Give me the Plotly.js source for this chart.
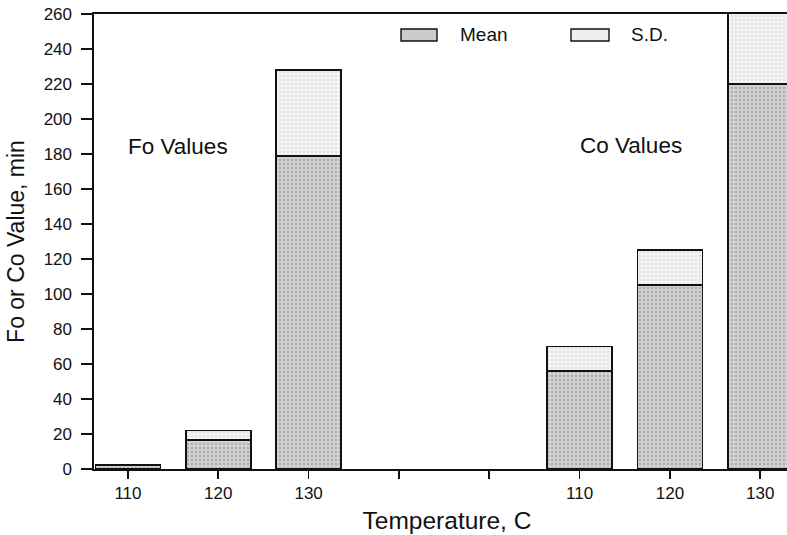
<!DOCTYPE html>
<html>
<head>
<meta charset="utf-8">
<script src="https://cdn.plot.ly/plotly-3.0.1.min.js"></script>
<style>
  html, body { margin: 0; padding: 0; background: #fff; overflow: hidden; }
  #chart { width: 800px; height: 535px; }
</style>
</head>
<body>
<div id="chart"></div>
<script>
// Temperature slots along the x axis: Fo group, two empty slots, Co group
const slots = ['Fo 110', 'Fo 120', 'Fo 130', 'gap a', 'gap b', 'Co 110', 'Co 120', 'Co 130'];
const slotLabels = ['110', '120', '130', '', '', '110', '120', '130'];

// Fo values (min)
const foSlots = ['Fo 110', 'Fo 120', 'Fo 130'];
const foMean = [2, 16.5, 179];
const foSD = [0.3, 5.5, 49];

// Co values (min)
const coSlots = ['Co 110', 'Co 120', 'Co 130'];
const coMean = [56, 105, 220];
const coSD = [14, 20, 70];

const FONT = 'Liberation Sans, Arial, Helvetica, sans-serif';

const meanStyle = {
  color: '#cfcfcf',
  line: { color: '#111', width: 1.6 },
  pattern: { shape: '.', bgcolor: '#d2d2d2', fgcolor: '#858585', size: 4, solidity: 0.32, fillmode: 'overlay' }
};
const sdStyle = {
  color: '#f0f0f0',
  line: { color: '#111', width: 1.6 },
  pattern: { shape: '.', bgcolor: '#f3f3f3', fgcolor: '#c2c2c2', size: 4, solidity: 0.22, fillmode: 'overlay' }
};

const traces = [
  { type: 'bar', name: 'Mean', x: foSlots.concat(coSlots), y: foMean.concat(coMean), marker: meanStyle, showlegend: false, hoverinfo: 'y' },
  { type: 'bar', name: 'S.D.', x: foSlots.concat(coSlots), y: foSD.concat(coSD), marker: sdStyle, showlegend: false, hoverinfo: 'y' }
];

// the figure runs a little past the right edge of the page, so the last bar is cut off there
const L = 94, R = 0, T = 14, B = 66, W = 800, H = 535;
const pw = W - L - R, ph = H - T - B;
const px = v => (v - L) / pw;
const py = v => (H - B - v) / ph;

const layout = {
  width: W, height: H,
  margin: { l: L, r: R, t: T, b: B, pad: 0 },
  paper_bgcolor: '#fff', plot_bgcolor: '#fff',
  barmode: 'stack',
  bargap: 0.28,
  font: { family: FONT, color: '#111', size: 16 },
  xaxis: {
    type: 'category',
    categoryorder: 'array', categoryarray: slots,
    tickmode: 'array', tickvals: slots, ticktext: slotLabels,
    range: [-0.376, 7.44],
    showline: true, linecolor: '#111', linewidth: 1.6, mirror: true,
    ticks: 'outside', ticklen: 8, tickwidth: 1.6, tickcolor: '#111',
    showgrid: false, zeroline: false,
    tickfont: { family: FONT, size: 17, color: '#111' },
    title: { text: 'Temperature, C', font: { family: FONT, size: 24.5, color: '#111' }, standoff: 10 }
  },
  yaxis: {
    range: [0, 260], dtick: 20, tick0: 0,
    showline: true, linecolor: '#111', linewidth: 1.6, mirror: false,
    ticks: 'outside', ticklen: 11, tickwidth: 1.6, tickcolor: '#111',
    ticklabelstandoff: 6,
    showgrid: false, zeroline: false,
    tickfont: { family: FONT, size: 17, color: '#111' },
    title: { text: 'Fo or Co Value, min', font: { family: FONT, size: 23, color: '#111' }, standoff: 12 }
  },
  shapes: [
    { type: 'rect', xref: 'paper', yref: 'paper', x0: px(401), x1: px(437), y0: py(41), y1: py(29),
      fillcolor: '#cbcbcb', line: { color: '#111', width: 1.4 } },
    { type: 'rect', xref: 'paper', yref: 'paper', x0: px(571), x1: px(609), y0: py(41), y1: py(29),
      fillcolor: '#efefef', line: { color: '#111', width: 1.4 } }
  ],
  annotations: [
    { xref: 'paper', yref: 'paper', x: px(458), y: py(35), xanchor: 'left', yanchor: 'middle',
      text: 'Mean', showarrow: false, font: { family: FONT, size: 19, color: '#111' } },
    { xref: 'paper', yref: 'paper', x: px(629), y: py(35), xanchor: 'left', yanchor: 'middle',
      text: 'S.D.', showarrow: false, font: { family: FONT, size: 19, color: '#111' } },
    { xref: 'paper', yref: 'paper', x: px(178), y: py(147), xanchor: 'center', yanchor: 'middle',
      text: 'Fo Values', showarrow: false, font: { family: FONT, size: 22.5, color: '#111' } },
    { xref: 'paper', yref: 'paper', x: px(631), y: py(145), xanchor: 'center', yanchor: 'middle',
      text: 'Co Values', showarrow: false, font: { family: FONT, size: 22.5, color: '#111' } }
  ]
};

Plotly.newPlot('chart', traces, layout, { displayModeBar: false, staticPlot: true });
</script>
</body>
</html>
